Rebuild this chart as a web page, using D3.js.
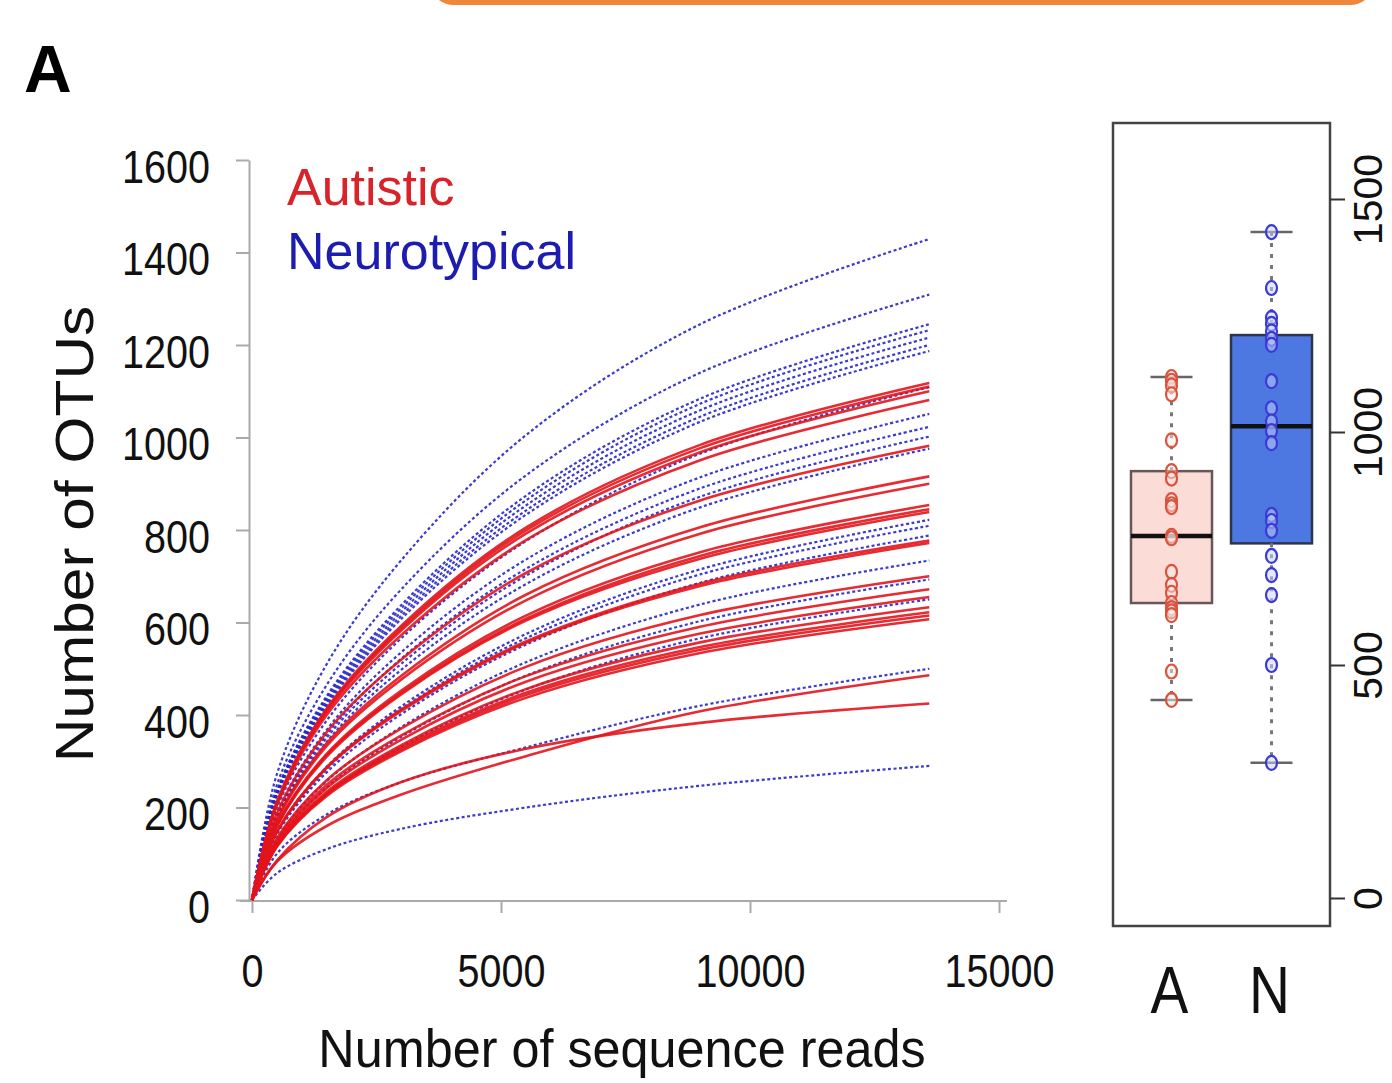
<!DOCTYPE html>
<html>
<head>
<meta charset="utf-8">
<script src="https://cdn.jsdelivr.net/npm/d3@7"></script>
<style>
  body { margin: 0; background: #fff; }
  text { font-family: "Liberation Sans", Arial, sans-serif; }
</style>
</head>
<body>
<script>
const depths = [0, 500, 1500, 3000, 5500, 9000, 13600];

// Autistic curves (solid red), OTUs at each depth
const autisticCurves = [
  [0, 212, 414, 593, 805, 984, 1118],
  [0, 211, 411, 588, 799, 977, 1110],
  [0, 209, 407, 583, 792, 968, 1100],
  [0, 205, 400, 573, 778, 951, 1081],
  [0, 187, 363, 520, 707, 864, 982],
  [0, 174, 339, 485, 660, 806, 916],
  [0, 171, 333, 477, 648, 792, 900],
  [0, 162, 316, 453, 615, 752, 854],
  [0, 161, 313, 448, 608, 744, 845],
  [0, 159, 310, 445, 604, 738, 839],
  [0, 148, 287, 412, 559, 684, 777],
  [0, 147, 286, 409, 556, 679, 772],
  [0, 133, 259, 371, 504, 616, 700],
  [0, 128, 249, 356, 484, 591, 672],
  [0, 124, 242, 347, 472, 576, 655],
  [0, 120, 234, 335, 456, 557, 633],
  [0, 118, 230, 330, 448, 547, 622],
  [0, 117, 228, 326, 443, 541, 615],
  [0, 115, 225, 322, 437, 534, 607],
  [0, 83, 160, 228, 311, 408, 486],
  [0, 85, 179, 255, 327, 383, 425]
];

// Neurotypical curves (dotted blue)
const neurotypicalCurves = [
  [0, 272, 510, 735, 1005, 1245, 1429],
  [0, 249, 465, 672, 918, 1140, 1309],
  [0, 236, 441, 638, 874, 1084, 1245],
  [0, 234, 436, 631, 864, 1073, 1232],
  [0, 231, 430, 623, 853, 1059, 1216],
  [0, 228, 425, 615, 842, 1045, 1200],
  [0, 225, 420, 608, 833, 1034, 1187],
  [0, 200, 388, 566, 776, 965, 1109],
  [0, 189, 368, 536, 736, 914, 1051],
  [0, 184, 358, 522, 716, 890, 1023],
  [0, 180, 351, 511, 701, 872, 1002],
  [0, 176, 342, 498, 683, 849, 976],
  [0, 148, 288, 419, 575, 715, 822],
  [0, 146, 283, 413, 566, 704, 809],
  [0, 142, 276, 402, 552, 686, 788],
  [0, 132, 257, 374, 514, 639, 734],
  [0, 125, 243, 353, 485, 603, 693],
  [0, 117, 228, 332, 455, 566, 650],
  [0, 100, 185, 255, 330, 420, 500],
  [0, 58, 110, 154, 200, 247, 290]
];

const xTicks = [0, 5000, 10000, 15000];
const yTicks = [0, 200, 400, 600, 800, 1000, 1200, 1400, 1600];
const boxTicks = [0, 500, 1000, 1500];
const groups = ["A", "N"];
const legendLabels = ["Autistic", "Neurotypical"];

const red = "#e3141c";
const blue = "#2626c8";
const fmt = d3.format("d");

const width = 1392, height = 1083;
const svg = d3.select("body").append("svg")
  .attr("width", width).attr("height", height);
svg.append("rect").attr("width", width).attr("height", height).attr("fill", "#fff");

// orange frame peeking in at the top
svg.append("rect")
  .attr("x", 432).attr("y", -60).attr("width", 940).attr("height", 62)
  .attr("rx", 22)
  .attr("fill", "none").attr("stroke", "#f0863a").attr("stroke-width", 6);

// panel letter
svg.append("text").attr("x", 24).attr("y", 92)
  .style("font-size", "66px").style("font-weight", "bold").text("A");

// ---- rarefaction curves ----
const x = d3.scaleLinear().domain([0, 15000]).range([252, 999]);
const y = d3.scaleLinear().domain([0, 1600]).range([900, 160]);

const gx = svg.append("g").attr("transform", "translate(0,901)")
  .call(d3.axisBottom(x).tickValues(xTicks).tickFormat(fmt).tickSize(12).tickSizeOuter(0));
gx.select(".domain").remove();
gx.append("line").attr("x1", x.range()[0] - 12).attr("x2", x.range()[1] + 8)
  .attr("stroke", "#aaa").attr("stroke-width", 2);
gx.selectAll(".tick line").attr("stroke", "#aaa").attr("stroke-width", 2);
gx.selectAll(".tick text")
  .attr("y", 0).attr("dy", 0)
  .attr("transform", "translate(0,86) scale(0.86,1)")
  .attr("fill", "#111")
  .style("font-size", "46px");

const gy = svg.append("g").attr("transform", "translate(249,0)")
  .call(d3.axisLeft(y).tickValues(yTicks).tickFormat(fmt).tickSize(13).tickSizeOuter(0));
gy.select(".domain").attr("stroke", "#aaa").attr("stroke-width", 2);
gy.selectAll(".tick line").attr("stroke", "#aaa").attr("stroke-width", 2);
gy.selectAll(".tick text")
  .attr("x", 0).attr("dy", 0)
  .attr("text-anchor", "end")
  .attr("transform", "translate(-39,22) scale(0.86,1)")
  .attr("fill", "#111")
  .style("font-size", "46px");

const line = d3.line()
  .x((d, i) => x(depths[i]))
  .y(d => y(d))
  .curve(d3.curveCatmullRom.alpha(0.5));

svg.append("g").selectAll("path")
  .data(neurotypicalCurves)
  .join("path")
  .attr("d", line)
  .attr("fill", "none")
  .attr("stroke", blue)
  .attr("stroke-width", 2.2)
  .attr("stroke-dasharray", "3,2.5")
  .attr("opacity", 0.9);

svg.append("g").selectAll("path")
  .data(autisticCurves)
  .join("path")
  .attr("d", line)
  .attr("fill", "none")
  .attr("stroke", red)
  .attr("stroke-width", 2.6)
  .attr("opacity", 0.9);

// legend
svg.append("g").selectAll("text")
  .data(legendLabels)
  .join("text")
  .attr("x", 287)
  .attr("y", (d, i) => 205 + i * 64)
  .attr("fill", (d, i) => i === 0 ? "#d8232a" : "#1c1cb0")
  .style("font-size", "52px")
  .text(d => d);

// axis titles
svg.append("text")
  .attr("text-anchor", "middle")
  .attr("transform", "translate(622,1067) scale(0.95,1)")
  .style("font-size", "53px").attr("fill", "#111")
  .text("Number of sequence reads");

svg.append("text")
  .attr("text-anchor", "middle")
  .attr("transform", "translate(93,534) rotate(-90) scale(1.14,1)")
  .style("font-size", "53px").attr("fill", "#111")
  .text("Number of OTUs");

// ---- box plot of final OTU counts ----
const finals = [
  autisticCurves.map(c => c[c.length - 1]),
  neurotypicalCurves.map(c => c[c.length - 1])
];

function fivenum(values) {
  const s = values.slice().sort(d3.ascending);
  const n = s.length;
  const h = Math.floor((n + 1) / 2);
  const q1 = d3.median(s.slice(0, h));
  const q3 = d3.median(s.slice(n - h));
  const med = d3.median(s);
  const iqr = q3 - q1;
  const lo = d3.min(s.filter(v => v >= q1 - 1.5 * iqr));
  const hi = d3.max(s.filter(v => v <= q3 + 1.5 * iqr));
  return { q1, med, q3, lo, hi };
}

const frame = { x0: 1113, x1: 1330, y0: 123, y1: 926 };
const bx = d3.scalePoint().domain(groups).range([frame.x0, frame.x1]).padding(0.585);
const by = d3.scaleLinear().domain([0, 1500]).range([898, 199]);

const boxFill = ["#fbdcd7", "#4d78e2"];
const boxStroke = ["#6a5656", "#2b3550"];
const ptStroke = ["#d9533f", "#3a3ad4"];
const ptFill = ["#fde9e5", "#c9d3fb"];
const boxHalf = 40.5;

svg.append("rect")
  .attr("x", frame.x0).attr("y", frame.y0)
  .attr("width", frame.x1 - frame.x0).attr("height", frame.y1 - frame.y0)
  .attr("fill", "#fff").attr("stroke", "#444").attr("stroke-width", 2.5);

groups.forEach((gname, gi) => {
  const st = fivenum(finals[gi]);
  const cx = bx(gname);
  const g = svg.append("g");

  g.append("rect")
    .attr("x", cx - boxHalf).attr("width", boxHalf * 2)
    .attr("y", by(st.q3)).attr("height", by(st.q1) - by(st.q3))
    .attr("fill", boxFill[gi]).attr("stroke", boxStroke[gi]).attr("stroke-width", 2.5);

  // whiskers
  [[st.q3, st.hi], [st.q1, st.lo]].forEach(([a, b]) => {
    g.append("line")
      .attr("x1", cx).attr("x2", cx).attr("y1", by(a)).attr("y2", by(b))
      .attr("stroke", "#777").attr("stroke-width", 3).attr("stroke-dasharray", "4,7");
    g.append("line")
      .attr("x1", cx - 21).attr("x2", cx + 21).attr("y1", by(b)).attr("y2", by(b))
      .attr("stroke", "#666").attr("stroke-width", 2.5);
  });

  g.append("line")
    .attr("x1", cx - boxHalf).attr("x2", cx + boxHalf)
    .attr("y1", by(st.med)).attr("y2", by(st.med))
    .attr("stroke", "#111").attr("stroke-width", 4.5);

  g.selectAll("ellipse")
    .data(finals[gi])
    .join("ellipse")
    .attr("cx", cx).attr("cy", d => by(d))
    .attr("rx", 5.5).attr("ry", 7)
    .attr("fill", ptFill[gi]).attr("fill-opacity", 0.5)
    .attr("stroke", ptStroke[gi]).attr("stroke-width", 2.2);
});

const gr = svg.append("g").attr("transform", `translate(${frame.x1},0)`)
  .call(d3.axisRight(by).tickValues(boxTicks).tickFormat(fmt).tickSize(15).tickSizeOuter(0));
gr.select(".domain").remove();
gr.selectAll(".tick line").attr("stroke", "#333").attr("stroke-width", 2);
gr.selectAll(".tick text")
  .attr("x", 0).attr("y", 0).attr("dy", 0)
  .attr("text-anchor", "middle")
  .attr("transform", "translate(52,0) rotate(-90)")
  .attr("fill", "#111")
  .style("font-size", "41px");

svg.append("g").selectAll("text")
  .data(groups)
  .join("text")
  .attr("text-anchor", "middle")
  .attr("transform", d => `translate(${bx(d) - 2},1013) scale(0.86,1)`)
  .attr("fill", "#111")
  .style("font-size", "66px")
  .text(d => d);
</script>
</body>
</html>
